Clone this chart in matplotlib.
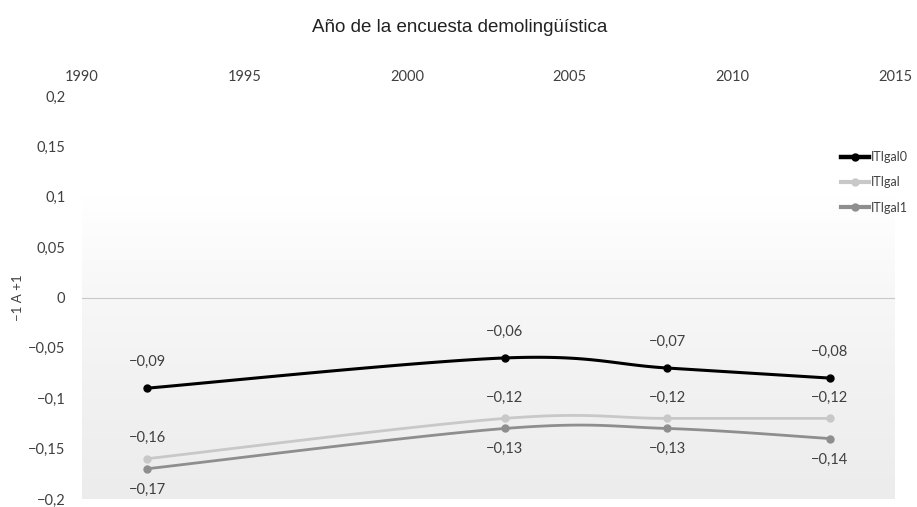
import matplotlib
matplotlib.use("Agg")
import matplotlib.pyplot as plt
import numpy as np
from matplotlib.colors import LinearSegmentedColormap

years = [1992, 2003, 2008, 2013]
itigal0 = [-0.09, -0.06, -0.07, -0.08]
itigal = [-0.16, -0.12, -0.12, -0.12]
itigal1 = [-0.17, -0.13, -0.13, -0.14]
series_names = ["ITIgal0", "ITIgal", "ITIgal1"]
x_ticks = [1990, 1995, 2000, 2005, 2010, 2015]
y_ticks = [0.2, 0.15, 0.1, 0.05, 0, -0.05, -0.1, -0.15, -0.2]


def smooth(xs, ys, n=40):
    # bezier smoothing like the spreadsheet "smoothed line"
    p = np.column_stack([xs, ys]).astype(float)
    p = np.vstack([p[0], p, p[-1]])
    out = []
    for i in range(1, len(p) - 2):
        p0, p1, p2, p3 = p[i - 1], p[i], p[i + 1], p[i + 2]
        c1 = p1 + (p2 - p0) / 6
        c2 = p2 - (p3 - p1) / 6
        t = np.linspace(0, 1, n)[:, None]
        seg = (1 - t) ** 3 * p1 + 3 * (1 - t) ** 2 * t * c1 + 3 * (1 - t) * t ** 2 * c2 + t ** 3 * p2
        out.append(seg)
    out = np.vstack(out)
    return out[:, 0], out[:, 1]


def fmt(v):
    return ("%.2f" % v).replace(".", ",").replace("-", "\u2212")


def fmt_tick(v):
    if v == 0:
        return "0"
    s = ("%g" % v).replace(".", ",")
    return s.replace("-", "\u2212")


fig = plt.figure(figsize=(9.17, 5.07), dpi=100)
ax = fig.add_axes([82 / 917, 1 - 499 / 507, (895 - 82) / 917, (499 - 96) / 507])

# background gradient
grad = LinearSegmentedColormap.from_list("g", ["#ececec", "#f1f1f1", "#f7f7f7", "#ffffff", "#ffffff"])
ax.imshow(np.linspace(0, 1, 256)[:, None], aspect="auto", cmap=grad, origin="lower",
          extent=[1990, 2015, -0.2, 0.2], zorder=0)

ax.axhline(0, color="#c8c8c8", linewidth=0.8, zorder=1)

colors = ["#000000", "#c8c8c8", "#8e8e8e"]
widths = [2.2, 2.0, 2.0]
data = [itigal0, itigal, itigal1]
for vals, name, c, w in zip(data, series_names, colors, widths):
    sx, sy = smooth(years, vals)
    ax.plot(sx, sy, color=c, linewidth=w, zorder=3, solid_capstyle="round")
    ax.plot(years, vals, "o", color=c, markersize=5, zorder=4)
    ax.plot([], [], color=c, linewidth=w + 1, marker="o", markersize=5, label=name)

lab_kw = dict(ha="center", fontsize=10.5, color="#404040", family="Lato")
for x, v in zip(years, itigal0):
    ax.annotate(fmt(v), (x, v), xytext=(0, 14), textcoords="offset points", va="bottom", **lab_kw)
for x, v in zip(years, itigal):
    ax.annotate(fmt(v), (x, v), xytext=(0, 10), textcoords="offset points", va="bottom", **lab_kw)
for x, v in zip(years, itigal1):
    ax.annotate(fmt(v), (x, v), xytext=(0, -10), textcoords="offset points", va="top", **lab_kw)

ax.set_xlim(1990, 2015)
ax.set_ylim(-0.2, 0.2)
ax.xaxis.tick_top()
ax.set_xticks(x_ticks)
ax.set_xticklabels([str(t) for t in x_ticks], family="Lato", fontsize=10.5, color="#404040")
ax.set_yticks(y_ticks)
ax.set_yticklabels([fmt_tick(t) for t in y_ticks], family="Lato", fontsize=10.5, color="#404040")
ax.tick_params(length=0, pad=12)
ax.tick_params(axis="x", pad=9)
for s in ax.spines.values():
    s.set_visible(False)

ax.set_ylabel("\u22121 A +1", family="Lato", fontsize=9.5, color="#404040")
ax.yaxis.set_label_coords(-58 / 813, 0.5)

fig.text(460 / 917, 1 - 27 / 507, "Año de la encuesta demolingüística", ha="center", va="center",
         fontsize=13.5, family="Liberation Sans", color="#222222")

leg = ax.legend(loc="upper left", bbox_to_anchor=(830 / 917, 1 - 140 / 507), bbox_transform=fig.transFigure,
                frameon=False, handlelength=2.2, handletextpad=0.15, labelspacing=1.05,
                prop={"family": "Lato", "size": 9})
for t in leg.get_texts():
    t.set_color("#404040")

fig.savefig("out.png", dpi=100)
